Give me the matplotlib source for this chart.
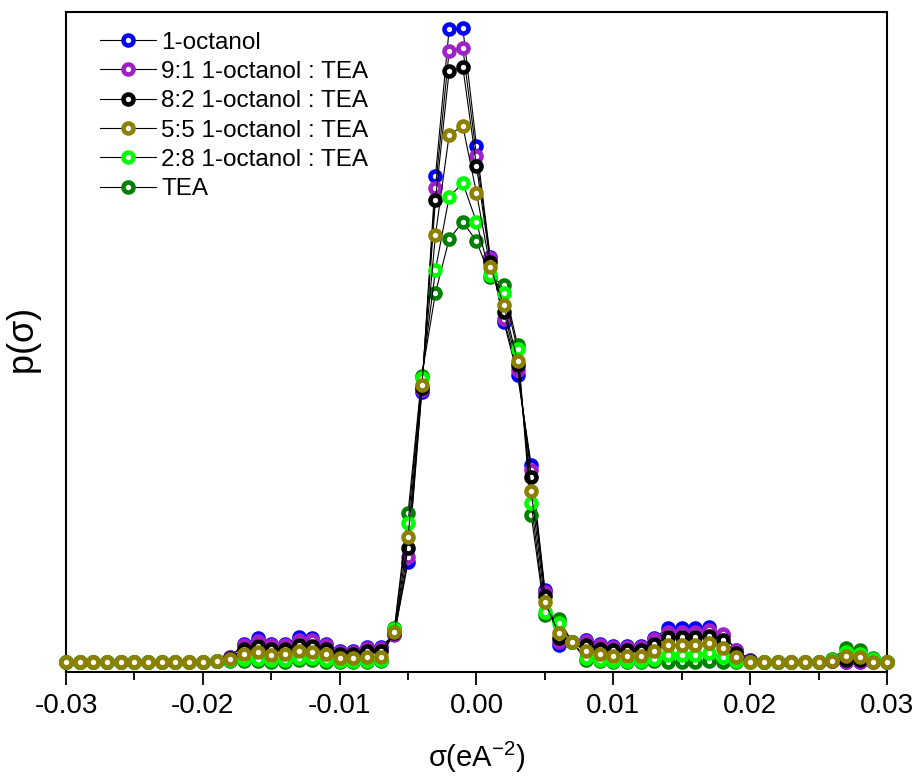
import matplotlib
matplotlib.use("Agg")
import matplotlib.pyplot as plt
import numpy as np

# surface charge density grid (e/A^2)
sigma = np.round(np.arange(-0.030, 0.0301, 0.001), 3)

labels = ["1-octanol", "9:1 1-octanol : TEA", "8:2 1-octanol : TEA",
          "5:5 1-octanol : TEA", "2:8 1-octanol : TEA", "TEA"]
colors = ["#0000ff", "#a020c8", "#000000", "#8b8000", "#00ff00", "#008000"]

zeros12 = [0] * 11
octanol = zeros12 + [1, 5, 18, 24, 18, 18, 25, 24, 18, 11, 11, 15, 15, 28, 100, 270,
                     486, 633, 634, 516, 405, 340, 287, 197, 72, 17, 20, 22, 18, 16, 16,
                     16, 24, 34, 34, 34, 35, 27, 12, 2, 0, 0, 0, 0, 0, 1, 0, 0, 0, 0]
mix_91 = zeros12 + [1, 5, 17, 21, 17, 17, 22, 22, 17, 10, 10, 14, 14, 27, 105, 272,
                    474, 611, 614, 506, 404, 343, 292, 192, 70, 20, 20, 21, 17, 15, 15,
                    15, 23, 30, 30, 30, 32, 28, 12, 2, 0, 0, 0, 0, 0, 1, 0, 0, 0, 0]
mix_82 = zeros12 + [1, 4, 13, 16, 13, 13, 17, 16, 13, 8, 8, 11, 11, 29, 114, 274,
                    462, 591, 595, 496, 400, 350, 297, 185, 66, 24, 20, 17, 13, 12, 12,
                    12, 18, 25, 25, 25, 26, 22, 9, 1, 0, 0, 0, 0, 0, 1, 2, 2, 1, 0]
mix_55 = zeros12 + [1, 3, 8, 10, 7, 8, 11, 10, 8, 4, 4, 5, 5, 30, 125, 277,
                    427, 527, 536, 469, 395, 357, 301, 171, 60, 29, 20, 11, 8, 6, 6,
                    6, 11, 17, 17, 17, 19, 14, 5, 0, 0, 0, 0, 0, 0, 1, 6, 5, 0, 0]
mix_28 = zeros12 + [1, 2, 3, 3, 2, 2, 4, 4, 2, 1, 1, 1, 2, 33, 139, 284,
                    392, 465, 479, 440, 387, 369, 313, 159, 50, 39, 20, 4, 2, 1, 1,
                    1, 3, 7, 7, 7, 9, 5, 1, 0, 0, 0, 0, 0, 0, 2, 10, 8, 3, 0]
tea = zeros12 + [1, 1, 1, 1, 0, 0, 2, 2, 0, 0, 0, 0, 1, 34, 149, 286,
                 369, 423, 440, 421, 385, 377, 317, 147, 47, 43, 20, 2, 1, 0, 0,
                 0, 1, 0, 0, 0, 1, 0, 0, 0, 0, 0, 0, 0, 0, 3, 14, 12, 4, 0]
tick_labels = ["-0.03", "-0.02", "-0.01", "0.00", "0.01", "0.02", "0.03"]

series = [octanol, mix_91, mix_82, mix_55, mix_28, tea]
zorders = [2, 3, 4, 7, 6, 5]

plt.rcParams["font.family"] = ["Liberation Sans", "DejaVu Sans"]

fig = plt.figure(figsize=(9.18, 7.83), dpi=100)
ax = fig.add_axes([66 / 918, 111 / 783, 821 / 918, 660 / 783])

for vals, lab, col, z in zip(series, labels, colors, zorders):
    ax.plot(sigma, vals, color="black", lw=0.8, marker="o", ms=7.2, mew=3.3,
            mfc="white", mec=col, label=lab, zorder=z, clip_on=False)

ax.set_xlim(-0.03, 0.03)
ax.set_ylim(-10, 650)
ax.set_xticks(np.arange(-0.03, 0.031, 0.01))
ax.set_xticks(np.arange(-0.025, 0.03, 0.01), minor=True)
ax.set_xticklabels(tick_labels)
ax.set_yticks([])
ax.tick_params(axis="x", which="major", direction="out", length=9, width=1.3,
               labelsize=20, pad=6)
ax.tick_params(axis="x", which="minor", direction="out", length=5.5, width=1.3)
for s in ax.spines.values():
    s.set_linewidth(1.5)

ax.set_xlabel(r"$\mathregular{\sigma(eA^{-2})}$", fontsize=21, labelpad=15)
ax.set_ylabel(r"p($\mathregular{\sigma}$)", fontsize=26, labelpad=16)

ax.legend(loc="upper left", frameon=False, fontsize=17.5, handlelength=2.3,
          handletextpad=0.2, labelspacing=0.3, borderaxespad=0.0,
          bbox_to_anchor=(0.03, 0.985))

fig.savefig("out.png", dpi=100)
